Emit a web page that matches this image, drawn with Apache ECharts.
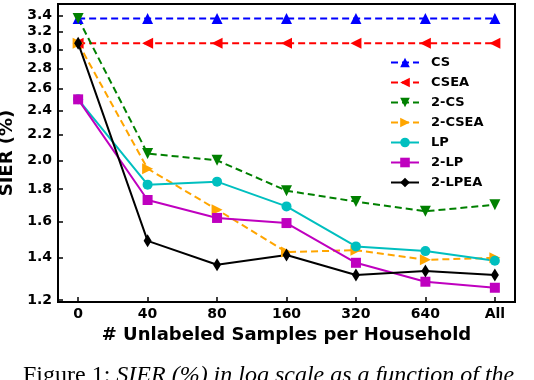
<!DOCTYPE html>
<html>
<head>
<meta charset="utf-8">
<script src="https://cdn.jsdelivr.net/npm/echarts@6/dist/echarts.min.js"></script>
<style>
  html, body { margin: 0; padding: 0; background: #fff; }
  #chart { width: 534px; height: 380px; }
</style>
</head>
<body>
<div id="chart"></div>
<script>
// x categories (evenly spaced positions)
const xLabels = ['0', '40', '80', '160', '320', '640', 'All'];
// y tick labels (log scale)
const yTicks = [1.2, 1.4, 1.6, 1.8, 2.0, 2.2, 2.4, 2.6, 2.8, 3.0, 3.2, 3.4];

// SIER (%) per method
const cs     = [3.36, 3.36, 3.36, 3.36, 3.36, 3.36, 3.36];
const csea   = [3.07, 3.07, 3.07, 3.07, 3.07, 3.07, 3.07];
const cs2    = [3.36, 2.05, 2.00, 1.79, 1.72, 1.66, 1.70];
const csea2  = [3.07, 1.94, 1.67, 1.43, 1.44, 1.39, 1.40];
const lp     = [2.50, 1.83, 1.85, 1.69, 1.46, 1.435, 1.385];
const lp2    = [2.50, 1.73, 1.62, 1.59, 1.375, 1.283, 1.255];
const lpea2  = [3.07, 1.49, 1.365, 1.415, 1.315, 1.334, 1.315];

const FONT = 'DejaVu Sans';

function pts(vals) {
  return vals.map((v, i) => [i, Math.log(v)]);
}

function mk(name, vals, color, dashed, symbol, size, rotate) {
  return {
    name: name,
    type: 'line',
    data: pts(vals),
    color: color,
    symbol: symbol,
    symbolSize: size,
    symbolRotate: rotate || 0,
    showSymbol: true,
    lineStyle: { color: color, width: 2, type: dashed ? [7, 4] : 'solid' },
    itemStyle: { color: color },
    emphasis: { disabled: true },
    animation: false
  };
}

const series = [
  mk('CS', cs, '#0000ff', true, 'triangle', 11, 0),
  mk('CSEA', csea, '#ff0000', true, 'triangle', 11, 90),
  mk('2-CS', cs2, '#008000', true, 'triangle', 11, 180),
  mk('2-CSEA', csea2, '#ffa500', true, 'triangle', 11, -90),
  mk('LP', lp, '#00bfbf', false, 'circle', 10, 0),
  mk('2-LP', lp2, '#bf00bf', false, 'rect', 10, 0),
  mk('2-LPEA', lpea2, '#000000', false, 'diamond', [8, 13], 0)
];

const chart = echarts.init(document.getElementById('chart'), null, { renderer: 'canvas' });

chart.setOption({
  animation: false,
  backgroundColor: '#fff',
  grid: {
    left: 58, right: 19, top: 4, bottom: 78,
    outerBoundsMode: 'none',
    containLabel: false,
    show: true, borderColor: '#000', borderWidth: 2, backgroundColor: 'transparent'
  },
  legend: {
    orient: 'vertical',
    left: 390,
    top: 56,
    padding: 0,
    itemWidth: 28,
    itemHeight: 12,
    itemGap: 7,
    data: series.map(s => s.name),
    textStyle: { fontFamily: FONT, fontWeight: 'bold', fontSize: 13, color: '#000', padding: [0, 0, 0, 7] }
  },
  xAxis: {
    type: 'value',
    min: -0.29,
    max: 6.29,
    name: '# Unlabeled Samples per Household',
    nameLocation: 'middle',
    nameGap: 22,
    nameTextStyle: { fontFamily: FONT, fontWeight: 'bold', fontSize: 18, color: '#000' },
    axisLine: { show: true, onZero: false, lineStyle: { color: '#000', width: 2 } },
    axisTick: {
      show: true, inside: true, length: 5, lineStyle: { color: '#000', width: 1.5 },
      customValues: xLabels.map((_, i) => i)
    },
    axisLabel: {
      show: true, margin: 5,
      customValues: xLabels.map((_, i) => i),
      formatter: v => xLabels[Math.round(v)],
      fontFamily: FONT, fontWeight: 'bold', fontSize: 14, color: '#000'
    },
    splitLine: { show: false }
  },
  yAxis: {
    type: 'value',
    min: 0.1750,
    max: 1.2650,
    name: 'SIER (%)',
    nameLocation: 'middle',
    nameGap: 37,
    nameTextStyle: { fontFamily: FONT, fontWeight: 'bold', fontSize: 18, color: '#000' },
    axisLine: { show: true, onZero: false, lineStyle: { color: '#000', width: 2 } },
    axisTick: {
      show: true, inside: true, length: 5, lineStyle: { color: '#000', width: 1.5 },
      customValues: yTicks.map(v => Math.log(v))
    },
    axisLabel: {
      show: true, margin: 6,
      customValues: yTicks.map(v => Math.log(v)),
      formatter: v => Math.exp(v).toFixed(1),
      fontFamily: FONT, fontWeight: 'bold', fontSize: 14, color: '#000'
    },
    splitLine: { show: false }
  },
  graphic: [{
    type: 'text',
    left: 23,
    top: 364,
    style: {
      text: '{a|Figure 1: }{b|SIER (%) in log scale as a function of the}',
      rich: {
        a: { fontFamily: 'Liberation Serif', fontSize: 24, fill: '#000' },
        b: { fontFamily: 'Liberation Serif', fontSize: 24, fontStyle: 'italic', fill: '#000' }
      }
    }
  }],
  series: series
});
</script>
</body>
</html>
